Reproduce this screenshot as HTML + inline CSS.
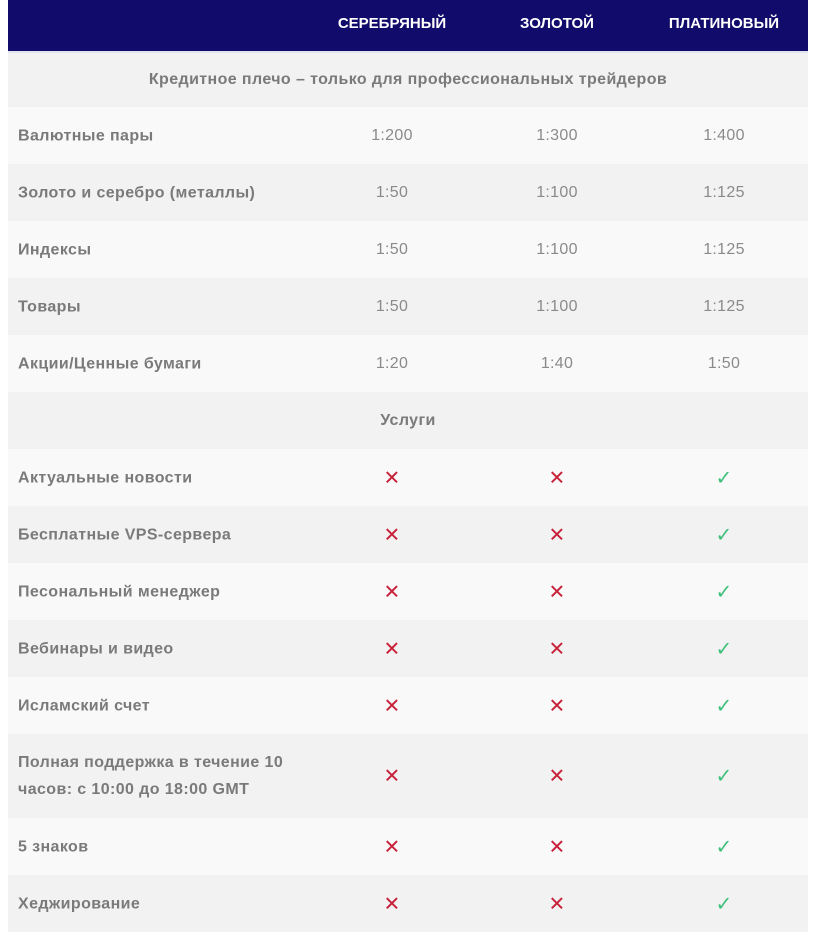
<!DOCTYPE html>
<html><head><meta charset="utf-8"><style>
body{margin:0;width:815px;height:916px;overflow:hidden;background:#fff;font-family:"Liberation Sans","DejaVu Sans",sans-serif;}
.hd{position:absolute;left:8px;top:0;width:800px;height:51px;background:#110c6b;border-bottom:2px solid #dfe3ee;}
.hd span{position:absolute;top:15px;color:#fff;font-weight:bold;font-size:15px;transform:translateX(-50%);white-space:nowrap}
.r{position:absolute;left:8px;width:800px;}
.a{background:#f2f2f2}.b{background:#f9f9f9}
.l{position:absolute;left:10px;color:#7a7a7a;font-weight:bold;font-size:16px;letter-spacing:0.4px;line-height:27px}
.c{position:absolute;color:#8a8a8a;font-size:16px;letter-spacing:0.3px;transform:translate(-50%,-50%);top:50%}
.t{position:absolute;width:100%;text-align:center;color:#7a7a7a;font-weight:bold;font-size:16px;letter-spacing:0.4px;top:50%;transform:translateY(-50%)}
.x{color:#c8213a;font-size:20px}
.v{color:#3fc07a;font-size:20px}
</style></head><body>
<div class="hd"><span style="left:384px">СЕРЕБРЯНЫЙ</span><span style="left:549px">ЗОЛОТОЙ</span><span style="left:716px">ПЛАТИНОВЫЙ</span></div>
<div id="rows"></div>
<script>
var R=[
["t","Кредитное плечо – только для профессиональных трейдеров",53,107],
["n","Валютные пары",107,164,"1:200","1:300","1:400"],
["n","Золото и серебро (металлы)",164,221,"1:50","1:100","1:125"],
["n","Индексы",221,278,"1:50","1:100","1:125"],
["n","Товары",278,335,"1:50","1:100","1:125"],
["n","Акции/Ценные бумаги",335,392,"1:20","1:40","1:50"],
["t","Услуги",392,449],
["s","Актуальные новости",449,506],
["s","Бесплатные VPS-сервера",506,563],
["s","Песональный менеджер",563,620],
["s","Вебинары и видео",620,677],
["s","Исламский счет",677,734],
["s","Полная поддержка в течение 10<br>часов: с 10:00 до 18:00 GMT",734,818],
["s","5 знаков",818,875],
["s","Хеджирование",875,932]];
var h="";
R.forEach(function(r,i){
 var cls=i%2==0?"a":"b";
 h+='<div class="r '+cls+'" style="top:'+r[2]+'px;height:'+(r[3]-r[2])+'px">';
 if(r[0]=="t"){h+='<div class="t">'+r[1]+'</div>';}
 else{
  h+='<div class="l" style="top:50%;transform:translateY(-50%)">'+r[1]+'</div>';
  var xs=[384,549,716];
  for(var k=0;k<3;k++){
   if(r[0]=="n")h+='<div class="c" style="left:'+xs[k]+'px">'+r[4+k]+'</div>';
   else h+= k<2?'<div class="c x" style="left:'+xs[k]+'px">✕</div>':'<div class="c v" style="left:'+xs[k]+'px">✓</div>';
  }
 }
 h+='</div>';
});
document.getElementById("rows").innerHTML=h;
</script>
</body></html>
